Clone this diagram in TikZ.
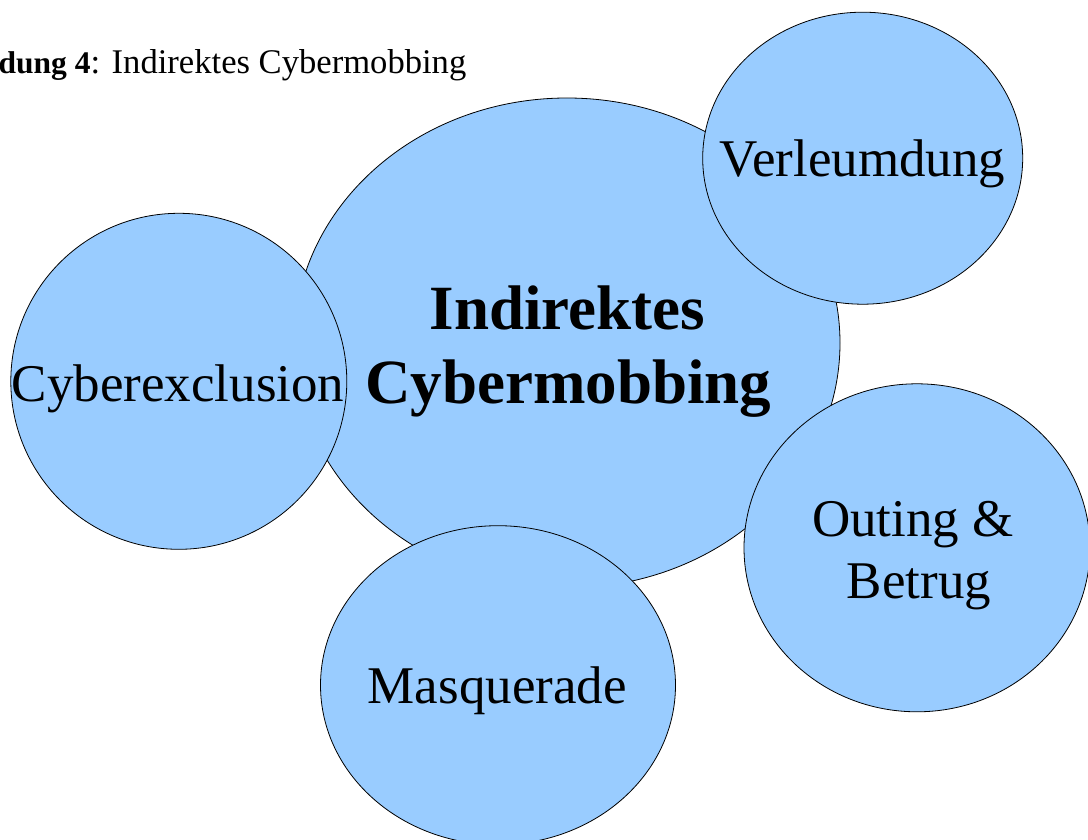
\documentclass[tikz,border=0pt]{standalone}
\usepackage{fontspec}
\setmainfont{Liberation Serif}
\usetikzlibrary{shapes.geometric}
\definecolor{bubble}{HTML}{99CCFF}
\tikzset{
  bubble/.style={ellipse, draw=black, line width=0.8pt, fill=bubble, inner sep=0pt, outer sep=0pt},
  lbltext/.style={anchor=base, inner sep=0pt, font=\fontsize{53}{62}\selectfont},
  titletext/.style={anchor=base, inner sep=0pt, font=\fontsize{63}{74}\selectfont\bfseries},
  captext/.style={anchor=base east, inner sep=0pt, font=\fontsize{34.6}{40}\selectfont}
}
\begin{document}
\begin{tikzpicture}[x=1pt,y=-1pt]
\useasboundingbox (0,0) rectangle (1088,840);
% caption
\node[captext] (caption) at (466.5,74) {{\fontsize{31.5}{40}\selectfont\bfseries Abbildung 4}: Indirektes Cybermobbing};
% central ellipse
\node[bubble, minimum width=546pt, minimum height=490pt] (main) at (567,343) {};
% satellites
\node[bubble, minimum width=320pt, minimum height=292pt] (verl) at (862.7,158.2) {};
\node[bubble, minimum width=336pt, minimum height=336pt] (excl) at (178.8,381.3) {};
\node[bubble, minimum width=346pt, minimum height=328pt] (outing) at (917,547.8) {};
\node[bubble, minimum width=355pt, minimum height=319pt] (masq) at (498,685.2) {};
% texts
\node[titletext] (t1) at (567.5,329.3) {Indirektes};
\node[titletext] (t2) at (568.3,403.3) {Cybermobbing};
\node[lbltext] (tverl) at (862.5,176.7) {Verleumdung};
\node[lbltext] (texcl) at (178,401.7) {Cyberexclusion};
\node[lbltext] (tout1) at (913,536.7) {Outing \&};
\node[lbltext] (tout2) at (919,598.3) {Betrug};
\node[lbltext] (tmasq) at (497.3,703.3) {Masquerade};
\end{tikzpicture}
\end{document}
